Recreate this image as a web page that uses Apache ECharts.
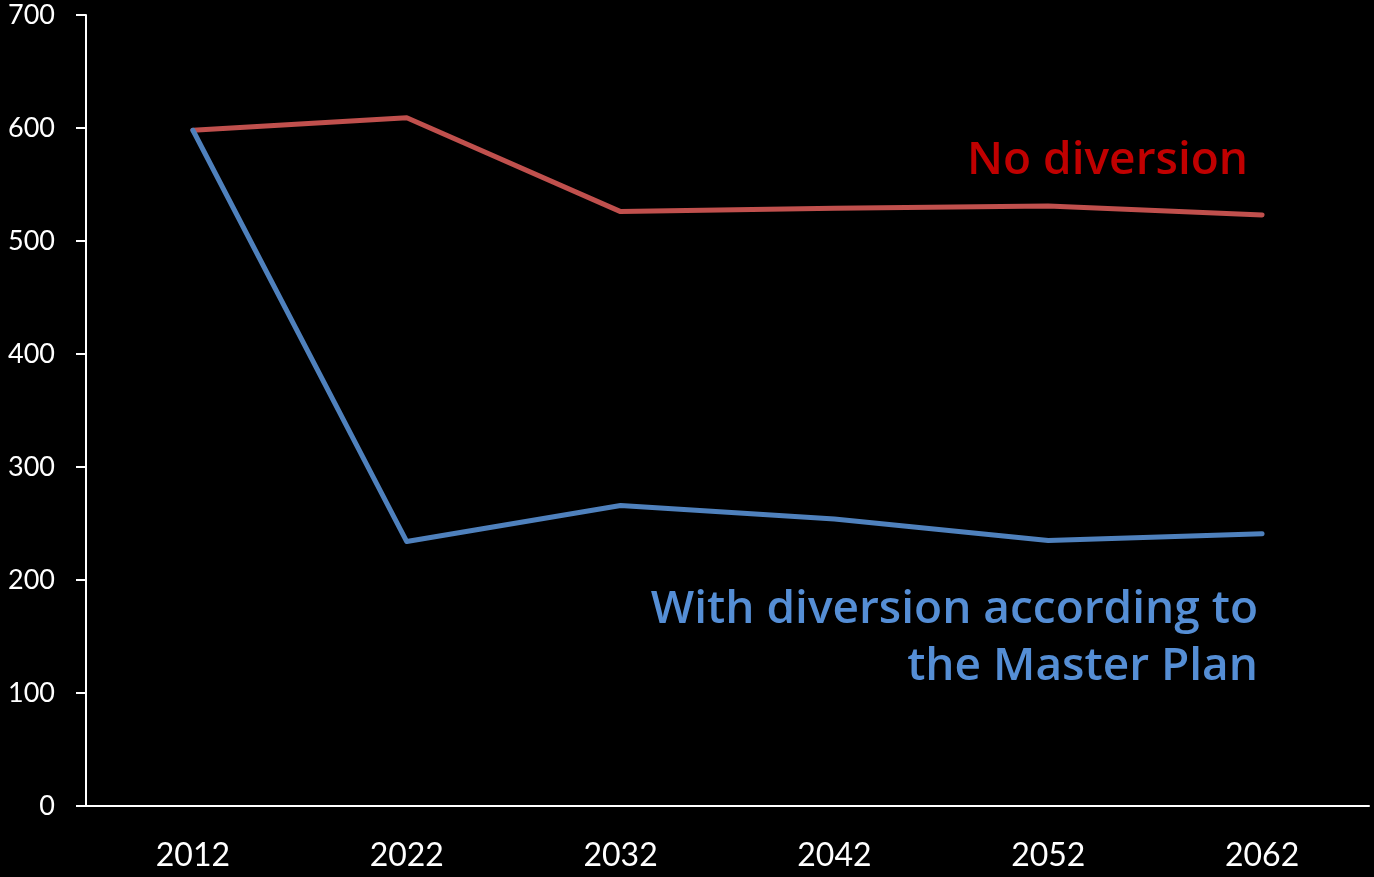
<!DOCTYPE html>
<html>
<head>
<meta charset="utf-8">
<script src="https://cdn.jsdelivr.net/npm/echarts@6/dist/echarts.min.js"></script>
<style>
  html, body { margin: 0; padding: 0; background: #000; }
  #chart { width: 1374px; height: 877px; }
</style>
</head>
<body>
<div id="chart"></div>
<script>
// Years on the horizontal axis
const years = ['2012', '2022', '2032', '2042', '2052', '2062'];
// Scenario without diversion
const noDiversion = [598, 609, 526, 529, 531, 523];
// Scenario with diversion according to the Master Plan
const withDiversion = [598, 234, 266, 254, 235, 241];
// Vertical axis range
const yMin = 0, yMax = 700, yStep = 100;

const chart = echarts.init(document.getElementById('chart'));
const axisFont = 'Lato, "Open Sans", sans-serif';
const noteFont = '"Open Sans", "Noto Sans", sans-serif';

chart.setOption({
  backgroundColor: '#000000',
  animation: false,
  grid: { left: 86, right: 5, top: 15, bottom: 71 },
  xAxis: {
    type: 'category',
    data: years,
    boundaryGap: true,
    axisLine: { lineStyle: { color: '#ffffff', width: 2 } },
    axisTick: { show: false },
    axisLabel: { color: '#ffffff', fontFamily: axisFont, fontSize: 32, margin: 34 },
    splitLine: { show: false }
  },
  yAxis: {
    type: 'value',
    min: yMin, max: yMax, interval: yStep,
    axisLine: { show: true, lineStyle: { color: '#ffffff', width: 2 } },
    axisTick: { show: true, length: 10, lineStyle: { color: '#ffffff', width: 2 } },
    axisLabel: { color: '#ffffff', fontFamily: axisFont, fontSize: 27, margin: 31 },
    splitLine: { show: false }
  },
  series: [
    {
      name: 'No diversion',
      type: 'line',
      data: noDiversion,
      symbol: 'none',
      lineStyle: { color: '#C0504D', width: 5, cap: 'round', join: 'round' },
      z: 2
    },
    {
      name: 'With diversion according to the Master Plan',
      type: 'line',
      data: withDiversion,
      symbol: 'none',
      lineStyle: { color: '#4F81BD', width: 5, cap: 'round', join: 'round' },
      z: 3
    }
  ],
  graphic: [
    {
      type: 'text', right: 126, top: 138,
      style: { text: 'No diversion', fill: '#C00000', font: '600 46px ' + noteFont, textAlign: 'right' }
    },
    {
      type: 'text', right: 116, top: 581,
      style: {
        text: 'With diversion according to\nthe Master Plan',
        fill: '#558ED5', font: '600 46px ' + noteFont, lineHeight: 57, align: 'right', textAlign: 'right'
      }
    }
  ]
});
</script>
</body>
</html>
